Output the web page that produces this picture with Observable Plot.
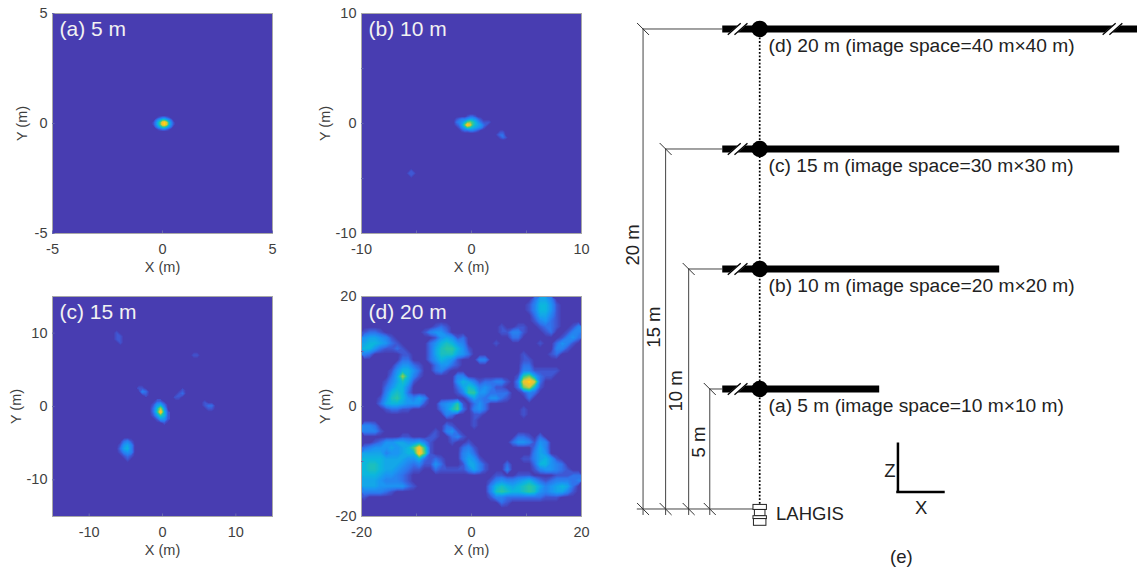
<!DOCTYPE html>
<html><head><meta charset="utf-8">
<script src="https://cdn.jsdelivr.net/npm/d3@7"></script>
<script src="https://cdn.jsdelivr.net/npm/@observablehq/plot@0.6"></script>
<style>
html,body{margin:0;padding:0;background:#fff;overflow:hidden}
#page{position:relative;width:1137px;height:572px}
#page svg{position:absolute;background:transparent}
</style></head><body><div id="page"></div>
<script>
// Intensity values 0-f (hex). Each patch: rows, x window, y window.
const gridA = ["000000000000","000123321000","002468864200","01369efc6310","01369efc6310","002468864200","000123321000","000000000000"];
const gridAx = [-0.55,0.65], gridAy = [0.4,-0.4];

const gridB1 = ["0000000000000000","0000001221000000","0012334554210000","0023469a86421110","001259fd86542100","0001358765431000","0000122332100000","0000000000000000"];
const gridB1x = [-2,2], gridB1y = [1,-1];
const gridB2 = ["000000","001100","012200","001210","000000"];
const gridB2x = [2,3.5], gridB2y = [-0.4,-1.65];
const gridB3 = ["00000","00100","01110","00100","00000"];
const gridB3x = [-6.1,-4.85], gridB3y = [-3.9,-5.15];

const gridC1 = ["001100","014520","026b40","027f61","014861","001441","000010"];
const gridC1x = [-2,1], gridC1y = [1,-2.5];
const gridC2 = ["000000","002310","014530","025630","013430","001210","000100","000000"];
const gridC2x = [-6.5,-3.5], gridC2y = [-4,-8];
const gridC3 = ["0000","0100","0110","0110","0010","0000"];
const gridC3x = [-7,-5], gridC3y = [10.75,8];
const gridC4 = ["0000","1100","0320","0010"];
const gridC4x = [-3.5,-1.5], gridC4y = [3.25,1.25];
const gridC5 = ["0010","0120","1100","0000"];
const gridC5x = [1.5,3.5], gridC5y = [2.5,0.5];
const gridC6 = ["00000","01000","01220","00110","00000"];
const gridC6x = [5,7.5], gridC6y = [1.25,-1];
const gridC7 = ["0000","0110","0000"];
const gridC7x = [3.5,5.5], gridC7y = [7.75,6.25];

const gridD = [
"0000000000 0000000000 0000000000 0255300000",
"0000000000 0000000000 0000000000 1366410000",
"0000000000 0000000000 0000000000 1366410000",
"0000000000 0000000000 0000000000 0255310000",
"0000000000 0000000000 0000000000 0134210000",
"0000000000 0001210000 0000010011 0012210013",
"1221000000 0134420000 0000011331 0001200133",
"4554310000 0001454120 0000000220 0000001342",
"5665421000 0024676430 0000100000 0010024310",
"6642112100 0025788641 0000000000 0000033100",
"3200000110 0025777542 0000000001 0000120000",
"0000000220 0024654100 0330000001 1000000000",
"0000002442 1002442100 0000000002 2000000000",
"0000014664 2002310000 0000000003 3111110000",
"0000025b63 1000000330 0000000018 a521100000",
"0000135751 0000000465 312233103d fc20000000",
"0000246630 0000000257 634311002a c610000000",
"0000367620 0000000138 8442222001 3200000000",
"0001478643 5300000002 5324421000 2000000000",
"0002566544 4100345810 2420000000 0000000000",
"0000122110 0000247920 3420000001 0000000000",
"0000000000 0000032000 1100000001 0000000000",
"0000000000 0000000000 1000000000 0000000000",
"3320000000 0000021000 1000000000 0000000000",
"3331000000 0001034100 0000000000 0000000000",
"0000000110 0011002310 0000000022 1020000000",
"0012445544 5310001001 0000000244 3143000000",
"2344454569 e810000023 1000000000 0253000000",
"5555344566 f910000034 2000000000 0354000000",
"6666555544 6212100035 4100000001 1356410000",
"6776555432 3114200015 5310002000 0266432000",
"6776554321 1002111113 5310003000 0134432100",
"6665443210 0000000000 0000110011 1000011122",
"5554333210 0000000000 0001343345 6421233323",
"5554444421 0000000000 0003676567 8753456520",
"3333210000 0000000000 0003787667 8743455310",
"1000000000 0000000000 0001332222 2221110000",
"0000000000 0000000000 0000021000 0000000000",
"0000000000 0000000000 0000000000 0000000000",
"0000000000 0000000000 0000000000 0000000000"];
const gridDx = [-20,20], gridDy = [20,-20];

const colorDomain = [0,1,2,4,6,8,10,12,14,15];
const colorRange = ["#483db1","#3f58d4","#2f74ec","#1b96f3","#0cb7dc","#2ec79c","#7ccb5c","#d8c640","#fdc222","#ffe60a"];
const levels = d3.range(0.25,15.01,0.25);
const ink = "#3f3f3f", font = "'Liberation Sans',Arial,sans-serif";

function values(rows){return rows.flatMap(r=>[...r.replace(/ /g,"")].map(c=>parseInt(c,16)));}
function field(rows,xw,yw){
  return Plot.contour(values(rows),{width:rows[0].replace(/ /g,"").length,height:rows.length,
    x1:xw[0],x2:xw[1],y1:yw[0],y2:yw[1],fill:Plot.identity,thresholds:levels,stroke:null,clip:"frame"});
}
function panel({left,top,limit,labels,ticks,title,fields,ylabelOffset}){
  const p = Plot.plot({
    width:300,height:280,marginLeft:52,marginRight:28,marginTop:13,marginBottom:47,
    style:{fontFamily:font,fontSize:"14.5px",color:ink,overflow:"visible"},
    x:{domain:[-limit,limit]},y:{domain:[-limit,limit]},
    color:{type:"linear",domain:colorDomain,range:colorRange},
    marks:[
      Plot.frame({fill:colorRange[0]}),
      ...fields,
      Plot.frame({stroke:"#a8a8a8",strokeWidth:1}),
      Plot.axisX(ticks,{anchor:"bottom",tickSize:-2.5,text:null,label:null,stroke:"#6a6ab0"}),
      Plot.axisY(ticks,{anchor:"left",tickSize:-2.5,text:null,label:null,stroke:"#6a6ab0"}),
      Plot.axisX(labels,{anchor:"bottom",tickSize:0,tickPadding:10,tickFormat:d=>String(d),fontSize:14.5,
        label:"X (m)",labelAnchor:"center",labelArrow:"none",labelOffset:38}),
      Plot.axisY(labels,{anchor:"left",tickSize:0,tickPadding:5,tickFormat:d=>String(d),fontSize:14.5,
        label:"Y (m)",labelAnchor:"center",labelArrow:"none",labelOffset:ylabelOffset}),
      Plot.text([title],{frameAnchor:"top-left",dx:7,dy:8,fill:"#f2f2f2",fontSize:21,textAnchor:"start",lineAnchor:"top"})
    ]
  });
  p.style.left=left+"px";p.style.top=top+"px";
  document.getElementById("page").append(p);
}
panel({left:0,top:0,limit:5,labels:[-5,0,5],ticks:[-5,0,5],title:"(a) 5 m",ylabelOffset:36,
  fields:[field(gridA,gridAx,gridAy)]});
panel({left:309.3,top:0,limit:10,labels:[-10,0,10],ticks:[-5,0,5],title:"(b) 10 m",ylabelOffset:42,
  fields:[field(gridB1,gridB1x,gridB1y),field(gridB2,gridB2x,gridB2y),field(gridB3,gridB3x,gridB3y)]});
panel({left:0,top:283.3,limit:15,labels:[-10,0,10],ticks:[-10,0,10],title:"(c) 15 m",ylabelOffset:42,
  fields:[field(gridC1,gridC1x,gridC1y),field(gridC2,gridC2x,gridC2y),field(gridC3,gridC3x,gridC3y),
    field(gridC4,gridC4x,gridC4y),field(gridC5,gridC5x,gridC5y),field(gridC6,gridC6x,gridC6y),field(gridC7,gridC7x,gridC7y)]});
panel({left:309.3,top:283.3,limit:20,labels:[-20,0,20],ticks:[-10,0,10],title:"(d) 20 m",ylabelOffset:42,
  fields:[field(gridD,gridDx,gridDy)]});

// Schematic (e): metres on both axes
const heights = [5,10,15,20];
const halfWidths = [5,10,15,20];
const captions = ["(a) 5 m (image space=10 m×10 m)","(b) 10 m (image space=20 m×20 m)","(c) 15 m (image space=30 m×30 m)","(d) 20 m (image space=40 m×40 m)"];
const dimX = [-4.86,-3.92,-2.96,-2.08].reverse();   // for 5,10,15,20 m
const dimTextX = [-2.52,-3.48,-4.4,-5.27];
const dimTextZ = [2.79,4.92,7.58,11];
const dimTexts = ["5 m","10 m","15 m","20 m"];
const beamStart = -1.54;
const breaks = [[-0.92,5],[-0.92,10],[-0.92,15],[-0.92,20],[14.7,20]];
const camera = [[-0.26,0.3,0.17,-0.04],[-0.2,0.24,-0.04,-0.3],[-0.26,0.3,-0.3,-0.42],[-0.24,0.28,-0.42,-0.7]];
const zAxisX = 5.76, zAxisTop = 2.75, zAxisBottom = 0.71, xAxisRight = 7.73;

const rows = heights.map((z,i)=>({z,half:halfWidths[i],cap:captions[i],dx:dimX[i]}));
const crossings = rows.flatMap(r=>[[r.dx,r.z],[r.dx,0]]);
const sch = Plot.plot({
  width:517,height:572,margin:0,
  x:{domain:[-5.8125,15.729],range:[-0.3,516.7],axis:null},
  y:{domain:[-2.625,21.208],range:[571.5,-0.5],axis:null},
  style:{fontFamily:font,color:"#1a1a1a"},
  marks:[
    Plot.ruleY(rows,{y:"z",x1:beamStart,x2:"half",stroke:"#000",strokeWidth:6.8,clip:"frame"}),
    Plot.ruleY(rows,{y:"z",x1:"dx",x2:beamStart,stroke:"#444",strokeWidth:1}),
    Plot.ruleY([0],{x1:-5.1,x2:-0.26,stroke:"#444",strokeWidth:1}),
    Plot.ruleX(rows,{x:"dx",y1:-0.27,y2:"z",stroke:"#444",strokeWidth:1}),
    Plot.link(crossings,{x1:d=>d[0]-0.25,x2:d=>d[0]+0.25,y1:d=>d[1]+0.25,y2:d=>d[1]-0.25,stroke:"#333",strokeWidth:1}),
    Plot.ruleX([0],{y1:0.2,y2:20,stroke:"#000",strokeWidth:1.7,strokeDasharray:"1.8,1.8"}),
    Plot.link(breaks,{x1:d=>d[0]-0.27,x2:d=>d[0]+0.27,y1:d=>d[1]-0.24,y2:d=>d[1]+0.24,stroke:"#fff",strokeWidth:5.5}),
    Plot.link(breaks,{x1:d=>d[0]-0.41,x2:d=>d[0]+0.13,y1:d=>d[1]-0.24,y2:d=>d[1]+0.24,stroke:"#000",strokeWidth:1.3}),
    Plot.link(breaks,{x1:d=>d[0]-0.13,x2:d=>d[0]+0.41,y1:d=>d[1]-0.24,y2:d=>d[1]+0.24,stroke:"#000",strokeWidth:1.3}),
    Plot.dot(rows,{x:()=>0,y:"z",r:8.3,fill:"#000"}),
    Plot.text(rows,{x:()=>0.37,y:"z",text:"cap",dy:16.5,textAnchor:"start",fontSize:19.2,fill:"#222"}),
    Plot.text(dimTexts,{x:(d,i)=>dimTextX[i],y:(d,i)=>dimTextZ[i],text:d=>d,rotate:-90,fontSize:18.5,fill:"#222"}),
    Plot.rect(camera,{x1:d=>d[0],x2:d=>d[1],y1:d=>d[2],y2:d=>d[3],fill:"#fff",stroke:"#222",strokeWidth:1}),
    Plot.text(["LAHGIS"],{x:()=>0.68,y:()=>-0.22,text:d=>d,textAnchor:"start",fontSize:18.5,fill:"#222"}),
    Plot.ruleX([zAxisX],{y1:zAxisBottom,y2:zAxisTop,stroke:"#000",strokeWidth:2.5}),
    Plot.ruleY([zAxisBottom],{x1:zAxisX-0.05,x2:xAxisRight,stroke:"#000",strokeWidth:2.5}),
    Plot.text(["Z"],{x:()=>5.42,y:()=>1.58,text:d=>d,fontSize:18.5,fill:"#222"}),
    Plot.text(["X"],{x:()=>6.73,y:()=>0.05,text:d=>d,fontSize:18.5,fill:"#222"}),
    Plot.text(["(e)"],{x:()=>5.9,y:()=>-2.0,text:d=>d,fontSize:18.5,fill:"#222"})
  ]
});
sch.style.left="620px";sch.style.top="0px";
document.getElementById("page").append(sch);
</script></body></html>
